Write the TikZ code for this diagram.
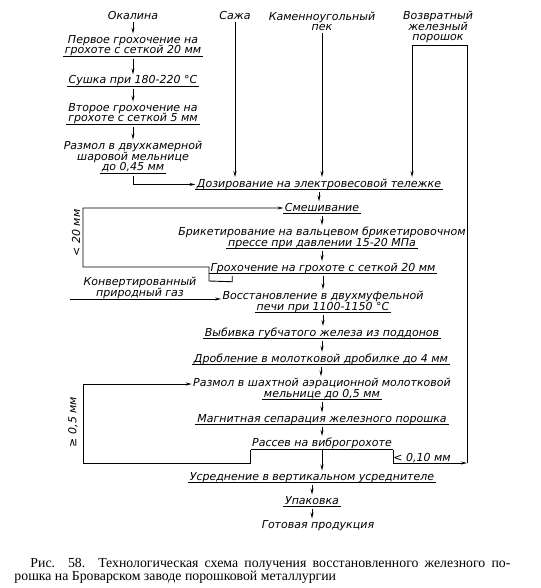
\documentclass[tikz,border=0pt]{standalone}
\usepackage{fontspec}
\newfontfamily\gostfont{DejaVu Sans}
\newfontfamily\capfont{Liberation Serif}
\usepackage{tikz}
\usetikzlibrary{arrows.meta,positioning,calc}

% underlined last line of a step
\newsavebox\undlbox
\newcommand\undl[1]{\sbox\undlbox{#1}\rlap{\kern-2pt\rule[-3.3pt]{\dimexpr\wd\undlbox+4pt\relax}{1.1pt}}\usebox\undlbox}

\begin{document}
\begin{tikzpicture}[x=1pt,y=-1pt,line width=0.9pt,
  txt/.style={font=\gostfont\itshape\fontsize{11}{10.8}\selectfont,align=center,inner sep=1pt,anchor=base},
  side/.style={txt,rotate=90,anchor=center},
  arr/.style={-{Stealth[length=6pt,width=3pt]}},
  capnode/.style={text width=496pt,align=justify,inner sep=0pt,anchor=base west}]
  \useasboundingbox[fill=white] (0,0) rectangle (540,588);

  % raw materials (base = last line)
  \node[txt] (okal) at (133,20) {Окалина};
  \node[txt] (sazha) at (235,20) {Сажа};
  \node[txt] (pek) at (322,31) {Каменноугольный\\пек};
  \node[txt] (vozvr) at (438,41) {Возвратный\\железный\\порошок};

  % scale line
  \node[txt] (sito1) at (133,54) {Первое грохочение на\\\undl{грохоте с сеткой 20 мм}};
  \node[txt] (sush) at (133,84) {\undl{Сушка при 180-220 °C}};
  \node[txt] (sito2) at (133,122) {Второе грохочение на\\\undl{грохоте с сеткой 5 мм}};
  \node[txt] (razm1) at (133,171) {Размол в двухкамерной\\шаровой мельнице\\\undl{до 0,45 мм}};

  % main line
  \node[txt] (doz) at (319,187) {\undl{Дозирование на электровесовой тележке}};
  \node[txt] (smesh) at (322,211) {\undl{Смешивание}};
  \node[txt] (brik) at (322,246) {Брикетирование на вальцевом брикетировочном\\\undl{прессе при давлении 15-20 МПа}};
  \node[txt] (groh) at (323,271) {\undl{Грохочение на грохоте с сеткой 20 мм}};
  \node[txt] (gaz) at (140,296) {Конвертированный\\природный газ};
  \node[txt] (vosst) at (323,310) {Восстановление в двухмуфельной\\\undl{печи при 1100-1150 °C}};
  \node[txt] (vyb) at (322,336) {\undl{Выбивка губчатого железа из поддонов}};
  \node[txt] (drob) at (321,362) {\undl{Дробление в молотковой дробилке до 4 мм}};
  \node[txt] (razm2) at (322,397) {Размол в шахтной аэрационной молотковой\\\undl{мельнице до 0,5 мм}};
  \node[txt] (magn) at (322,422) {\undl{Магнитная сепарация железного порошка}};
  \node[txt] (rass) at (322,446) {Рассев на виброгрохоте};
  \node[txt] (usr) at (312,480) {\undl{Усреднение в вертикальном усреднителе}};
  \node[txt] (upak) at (312,504) {\undl{Упаковка}};
  \node[txt] (got) at (318,528) {Готовая продукция};

  % fractions
  \node[side] (l20) at (76,233) {< 20 мм};
  \node[side] (l05) at (73,422) {≥ 0,5 мм};
  \node[txt] (l010) at (422,461) {< 0,10 мм};

  \foreach \a/\b in {okal/sito1,sito1/sush,sush/sito2,sito2/razm1}
    \draw[arr] (\a.south) -- (\a.south |- \b.north);
  \foreach \a/\b in {doz/smesh,smesh/brik,brik/groh,groh/vosst,vosst/vyb,vyb/drob,
    drob/razm2,razm2/magn,magn/rass,rass/usr,usr/upak,upak/got}
    \draw[arr] (\a.south) -- (\a.south |- \b.north);

  \draw[arr] (razm1.south) |- (doz.west);
  \draw[arr] (sazha) -- (sazha |- doz.north);
  \draw[arr] (pek) -- (pek |- doz.north);

  % return of fine powder
  \coordinate (retb) at (467,463);
  \coordinate (rett) at (467,45);
  \coordinate (retl) at (412,45);
  \draw (rass.south west) -- (rass.south east);
  \draw[arr] (rass.south east) |- (retb);
  \draw[arr] (retb) -- (rett) -- (retl) -- (retl |- doz.north);

  % oversize back to mixing
  \coordinate (loop1) at (83,208);
  \draw[arr] ($(groh.south west)+(23,0)$) -- ++(0,6) -- (209,281) -- (209,267)
    -- (83,267) -- (loop1) -- (loop1 -| smesh.west);

  % oversize back to milling
  \coordinate (loop2) at (83,384);
  \draw[arr] (rass.south west) |- (83,463) -- (loop2) -- (loop2 -| razm2.west);

  % gas
  \coordinate (gas0) at (70,299);
  \draw[arr] (gas0) -- (gas0 -| vosst.west);

  \node[capnode] (cap) at (14,567) {\capfont\fontsize{13.8}{16.5}\selectfont\hspace*{16pt}Рис. 58. Технологическая схема получения восстановленного железного по-\linebreak рошка на Броварском заводе порошковой металлургии};
\end{tikzpicture}
\end{document}
